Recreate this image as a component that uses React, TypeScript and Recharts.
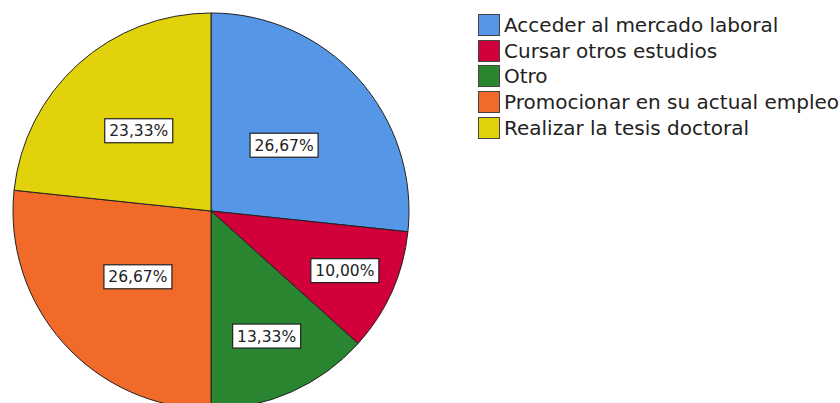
import React from "react";
import { PieChart, Pie, Cell } from "recharts";

const categories = [
  "Acceder al mercado laboral",
  "Cursar otros estudios",
  "Otro",
  "Promocionar en su actual empleo",
  "Realizar la tesis doctoral",
];
const percentages = [26.67, 10.0, 13.33, 26.67, 23.33];
const colors = ["#5596E6", "#D2003A", "#2A8530", "#F26A2A", "#E2D20C"];

const data = categories.map((name, i) => ({ name, value: percentages[i] }));

const RAD = Math.PI / 180;

const renderLabel = (props: any) => {
  const { cx, cy, midAngle, outerRadius, index } = props;
  const p = percentages[index] / 100;
  const r = outerRadius * (0.886 - 1.46 * p);
  const x = cx + r * Math.cos(-midAngle * RAD);
  const y = cy + r * Math.sin(-midAngle * RAD);
  const text = percentages[index].toFixed(2).replace(".", ",") + "%";
  const w = 68;
  const h = 24;
  return (
    <g>
      <rect x={x - w / 2} y={y - h / 2} width={w} height={h} fill="#fff" stroke="#222" strokeWidth={1.2} />
      <text
        x={x}
        y={y + 1}
        textAnchor="middle"
        dominantBaseline="middle"
        fontFamily="DejaVu Sans"
        fontSize={15.5}
        fill="#222"
      >
        {text}
      </text>
    </g>
  );
};

export default function App() {
  return (
    <div style={{ position: "absolute", left: 0, top: 0, width: 840, height: 403, background: "#fff" }}>
      <PieChart width={840} height={403} margin={{ top: 0, right: 0, bottom: 0, left: 0 }}>
        <Pie
          data={data}
          dataKey="value"
          nameKey="name"
          cx={211}
          cy={211}
          outerRadius={198}
          startAngle={90}
          endAngle={-270}
          stroke="#222"
          strokeWidth={1}
          label={renderLabel}
          labelLine={false}
          isAnimationActive={false}
        >
          {data.map((d, i) => (
            <Cell key={d.name} fill={colors[i]} />
          ))}
        </Pie>
      </PieChart>
      <div
        style={{
          position: "absolute",
          left: 478,
          top: 12,
          fontFamily: "DejaVu Sans",
          fontSize: 20,
          color: "#222",
        }}
      >
        {categories.map((c, i) => (
          <div key={c} style={{ display: "flex", alignItems: "center", height: 25.8 }}>
            <div
              style={{
                width: 22,
                height: 22,
                background: colors[i],
                border: "1.5px solid #444",
                marginRight: 4,
                boxSizing: "border-box",
                flexShrink: 0,
              }}
            />
            <span style={{ whiteSpace: "nowrap" }}>{c}</span>
          </div>
        ))}
      </div>
    </div>
  );
}
